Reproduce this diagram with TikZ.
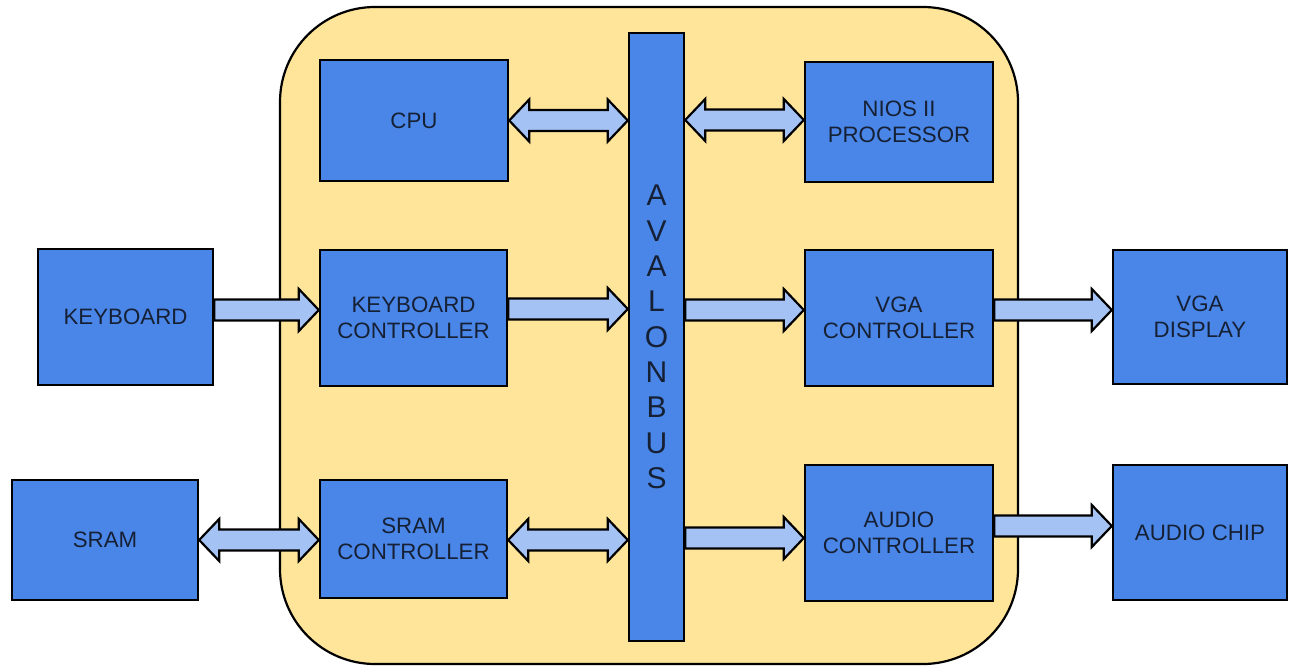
\documentclass[tikz,border=0pt]{standalone}
\usepackage{fontspec}
\setmainfont{Liberation Sans}
\usetikzlibrary{calc}
\definecolor{boxblue}{HTML}{4A86E8}
\definecolor{socfill}{HTML}{FFE599}
\definecolor{arrfill}{HTML}{A4C2F4}
\definecolor{txt}{RGB}{22,32,52}
\tikzset{
  blk/.style={draw=black, line width=2.4pt, fill=boxblue, inner sep=0pt,
    align=center, text=txt, font=\fontsize{22.3}{26.5}\selectfont},
  soc/.style={draw=black, line width=2.2pt, fill=socfill, rounded corners=95pt},
  fat/.style={draw=black, line width=2.2pt, fill=arrfill, line join=miter},
}
\newcommand\dbarrow[2]{\path[fat] let \p1=#1, \p2=#2 in
  (\x1,\y1) -- (\x1+20pt,\y1+21pt) -- (\x1+20pt,\y1+10.5pt) -- (\x2-20pt,\y1+10.5pt)
  -- (\x2-20pt,\y1+21pt) -- (\x2,\y1) -- (\x2-20pt,\y1-21pt) -- (\x2-20pt,\y1-10.5pt)
  -- (\x1+20pt,\y1-10.5pt) -- (\x1+20pt,\y1-21pt) -- cycle;}
\newcommand\sgarrow[2]{\path[fat] let \p1=#1, \p2=#2 in
  (\x1,\y1+10.5pt) -- (\x2-20pt,\y1+10.5pt) -- (\x2-20pt,\y1+21pt) -- (\x2,\y1)
  -- (\x2-20pt,\y1-21pt) -- (\x2-20pt,\y1-10.5pt) -- (\x1,\y1-10.5pt) -- cycle;}
\begin{document}
\begin{tikzpicture}[x=1pt,y=-1pt]
\useasboundingbox (0,0) rectangle (1289,666);
\fill[white] (0,0) rectangle (1289,666);
\draw[soc] (280,7) rectangle (1018,664);
\node[blk, minimum width=188pt, minimum height=121pt] (cpu) at (414,120.5) {CPU};
\node[blk, minimum width=188pt, minimum height=120pt] (nios) at (899,122) {NIOS II\\PROCESSOR};
\node[blk, minimum width=175pt, minimum height=136pt] (kb) at (125.5,317) {KEYBOARD};
\node[blk, minimum width=187pt, minimum height=136pt] (kbc) at (413.5,318) {KEYBOARD\\CONTROLLER};
\node[blk, minimum width=188pt, minimum height=136pt] (vgac) at (899,318) {VGA\\CONTROLLER};
\node[blk, minimum width=174pt, minimum height=134pt] (vgad) at (1200,317) {VGA\\DISPLAY};
\node[blk, minimum width=186pt, minimum height=120pt] (sram) at (105,540) {SRAM};
\node[blk, minimum width=187pt, minimum height=118pt] (sramc) at (413.5,539) {SRAM\\CONTROLLER};
\node[blk, minimum width=188pt, minimum height=136pt] (audc) at (899,533) {AUDIO\\CONTROLLER};
\node[blk, minimum width=174pt, minimum height=135pt] (chip) at (1200,532.5) {AUDIO CHIP};
\node[blk, minimum width=55pt, minimum height=608pt, font=\fontsize{30}{35.3}\selectfont] (bus) at (656.5,337)
  {A\\V\\A\\L\\O\\N\\B\\U\\S};
% connectors
\dbarrow{(cpu.east)}{(bus.west)}
\dbarrow{($(bus.east |- nios.west)+(0,-2)$)}{(nios.west)}
\sgarrow{($(kb.east)+(0,-7)$)}{(kbc.west)}
\sgarrow{($(kbc.east)+(0,-9)$)}{(bus.west)}
\sgarrow{($(bus.east |- vgac.west)+(0,-8)$)}{(vgac.west)}
\sgarrow{($(vgac.east)+(0,-8)$)}{(vgad.west)}
\dbarrow{(sram.east)}{(sramc.west)}
\dbarrow{($(sramc.east)+(0,1)$)}{(bus.west)}
\sgarrow{($(bus.east |- audc.west)+(0,5)$)}{(audc.west)}
\sgarrow{($(audc.east)+(0,-7)$)}{(chip.west)}
\end{tikzpicture}
\end{document}
